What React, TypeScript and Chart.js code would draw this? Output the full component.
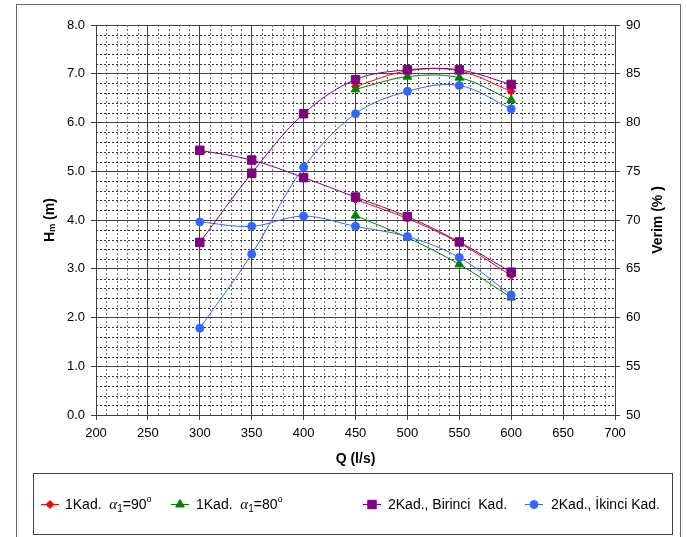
import React, { useEffect, useRef } from 'react';
import { Chart, registerables } from 'chart.js';
import { drawPoint } from 'chart.js/helpers';

Chart.register(...registerables);

// ---- data ----
const Q_ALL = [300, 350, 400, 450, 500, 550, 600];
const Q_1KAD = [450, 500, 550, 600];

const kad1_90_H = [4.42, 4.03, 3.53, 2.86];
const kad1_90_Eff = [83.7, 85.3, 85.3, 83.2];
const kad1_80_H = [4.09, 3.64, 3.09, 2.41];
const kad1_80_Eff = [83.4, 84.7, 84.6, 82.3];
const birinci_H = [5.43, 5.23, 4.87, 4.47, 4.07, 3.55, 2.93];
const birinci_Eff = [67.7, 74.8, 80.9, 84.4, 85.4, 85.4, 83.9];
const ikinci_H = [3.96, 3.87, 4.08, 3.87, 3.66, 3.23, 2.46];
const ikinci_Eff = [58.9, 66.5, 75.4, 80.9, 83.2, 83.8, 81.4];

const X_MIN = 200, X_MAX = 700, X_STEP = 50, X_MINOR = 10;
const H_MIN = 0, H_MAX = 8, H_STEP = 1, H_MINOR = 0.2;
const E_MIN = 50, E_MAX = 90, E_STEP = 5;

const RED = '#FF0000';
const GREEN = '#008000';
const PURPLE = '#800080';
const BLUE = '#3366FF';

const FONT = "'Liberation Sans', Arial, sans-serif";
const SERIF = "'Liberation Serif', 'Times New Roman', serif";

const pts = (xs: number[], ys: number[]) => xs.map((x, i) => ({ x, y: ys[i] }));

type Part = { t: string; font: string; dy?: number };

function richWidth(ctx: CanvasRenderingContext2D, parts: Part[]) {
  let w = 0;
  for (const p of parts) { ctx.font = p.font; w += ctx.measureText(p.t).width; }
  return w;
}
function drawRich(ctx: CanvasRenderingContext2D, parts: Part[], x: number, y: number) {
  let cx = x;
  for (const p of parts) {
    ctx.font = p.font;
    ctx.fillText(p.t, cx, y + (p.dy || 0));
    cx += ctx.measureText(p.t).width;
  }
}

const minorGrid = {
  id: 'minorGrid',
  beforeDatasetsDraw(chart: any) {
    const { ctx, chartArea: a, scales } = chart;
    const x = scales.x, y = scales.y;
    ctx.save();
    ctx.lineWidth = 1;
    ctx.setLineDash([2, 2]);
    const nx = Math.round((X_MAX - X_MIN) / X_MINOR);
    const per = Math.round(X_STEP / X_MINOR);
    ctx.strokeStyle = '#707070';
    for (let i = 1; i < nx; i++) {
      if (i % per === 0) continue;
      const px = Math.round(x.getPixelForValue(X_MIN + i * X_MINOR)) + 0.5;
      ctx.beginPath(); ctx.moveTo(px, a.top); ctx.lineTo(px, a.bottom); ctx.stroke();
    }
    const ny = Math.round((H_MAX - H_MIN) / H_MINOR);
    const perY = Math.round(H_STEP / H_MINOR);
    ctx.strokeStyle = '#303030';
    for (let i = 1; i < ny; i++) {
      if (i % perY === 0) continue;
      const py = Math.round(y.getPixelForValue(H_MIN + i * H_MINOR)) + 0.5;
      ctx.beginPath(); ctx.moveTo(a.left, py); ctx.lineTo(a.right, py); ctx.stroke();
    }
    ctx.restore();
  },
};

const LEGEND = [
  { color: RED, style: 'rectRot', r: 4, mx: 50, tx: 65, kind: 'alpha', angle: '90' },
  { color: GREEN, style: 'triangle', r: 5, mx: 180, tx: 196, kind: 'alpha', angle: '80' },
  { color: PURPLE, style: 'rect', r: 6, mx: 372, tx: 388, kind: 'text', text: '2Kad., Birinci  Kad.' },
  { color: BLUE, style: 'circle', r: 4, mx: 534, tx: 551, kind: 'text', text: '2Kad., İkinci Kad.' },
];

const decorations = {
  id: 'decorations',
  afterDraw(chart: any) {
    const { ctx, chartArea: a } = chart;
    ctx.save();
    // outer border
    ctx.strokeStyle = '#6a6a6a';
    ctx.lineWidth = 1;
    ctx.strokeRect(16.5, 4.5, 664, 560);

    ctx.fillStyle = '#000';
    ctx.textBaseline = 'middle';
    const bold = `bold 14px ${FONT}`;
    // left title
    const cy = (a.top + a.bottom) / 2;
    const lp: Part[] = [
      { t: 'H', font: bold },
      { t: 'm', font: `bold 9px ${FONT}`, dy: 3 },
      { t: ' (m)', font: bold },
    ];
    ctx.save();
    ctx.translate(50, cy);
    ctx.rotate(-Math.PI / 2);
    drawRich(ctx, lp, -richWidth(ctx, lp) / 2, 0);
    ctx.restore();
    // right title
    ctx.save();
    ctx.translate(658, cy);
    ctx.rotate(-Math.PI / 2);
    ctx.font = bold;
    ctx.textAlign = 'center';
    ctx.fillText('Verim (% )', 0, 0);
    ctx.restore();
    // x title
    ctx.font = bold;
    ctx.textAlign = 'center';
    ctx.fillText('Q (l/s)', (a.left + a.right) / 2, 459);

    // legend box
    ctx.strokeStyle = '#404040';
    ctx.strokeRect(33.5, 473.5, 639, 61);
    const ly = 504;
    ctx.textAlign = 'left';
    ctx.textBaseline = 'alphabetic';
    const f14 = `14px ${FONT}`;
    for (const it of LEGEND) {
      ctx.strokeStyle = it.color;
      ctx.fillStyle = it.color;
      ctx.lineWidth = 1;
      ctx.beginPath(); ctx.moveTo(it.mx - 9, ly + 0.5); ctx.lineTo(it.mx + 9, ly + 0.5); ctx.stroke();
      drawPoint(ctx, { pointStyle: it.style as any, rotation: 0, radius: it.r, borderWidth: 1 }, it.mx, ly + 0.5);
      ctx.fillStyle = '#000';
      let parts: Part[];
      if (it.kind === 'alpha') {
        parts = [
          { t: '1Kad.  ', font: f14 },
          { t: 'α', font: `italic 15px ${SERIF}` },
          { t: '1', font: `10px ${FONT}`, dy: 3 },
          { t: '=' + it.angle, font: f14 },
          { t: 'o', font: `9px ${FONT}`, dy: -7 },
        ];
      } else {
        parts = [{ t: it.text as string, font: f14 }];
      }
      drawRich(ctx, parts, it.tx, ly + 5);
    }
    ctx.restore();
  },
};

export default function App() {
  const ref = useRef<HTMLCanvasElement>(null);
  useEffect(() => {
    const canvas = ref.current!;
    Chart.defaults.font.family = FONT;
    Chart.defaults.font.size = 13;
    Chart.defaults.color = '#000';
    const mk = (label: string, data: any[], color: string, style: string, r: number, axis: string, order: number) => ({
      label, data, yAxisID: axis, order,
      borderColor: color, backgroundColor: color,
      pointBackgroundColor: color, pointBorderColor: color,
      pointStyle: style, pointRadius: r, pointBorderWidth: 1,
      borderWidth: 1, tension: 0.35, fill: false,
    });
    const chart = new Chart(canvas, {
      type: 'line',
      data: {
        datasets: [
          mk('1Kad. α1=90° H', pts(Q_1KAD, kad1_90_H), RED, 'rectRot', 4, 'y', 8),
          mk('1Kad. α1=80° H', pts(Q_1KAD, kad1_80_H), GREEN, 'triangle', 5, 'y', 7),
          mk('2Kad., Birinci Kad. H', pts(Q_ALL, birinci_H), PURPLE, 'rect', 6, 'y', 6),
          mk('2Kad., İkinci Kad. H', pts(Q_ALL, ikinci_H), BLUE, 'circle', 4, 'y', 5),
          mk('1Kad. α1=90° Verim', pts(Q_1KAD, kad1_90_Eff), RED, 'rectRot', 4, 'y2', 4),
          mk('1Kad. α1=80° Verim', pts(Q_1KAD, kad1_80_Eff), GREEN, 'triangle', 5, 'y2', 3),
          mk('2Kad., Birinci Kad. Verim', pts(Q_ALL, birinci_Eff), PURPLE, 'rect', 6, 'y2', 2),
          mk('2Kad., İkinci Kad. Verim', pts(Q_ALL, ikinci_Eff), BLUE, 'circle', 4, 'y2', 1),
        ] as any,
      },
      options: {
        animation: false,
        responsive: false,
        devicePixelRatio: 1,
        layout: { padding: { top: 25, left: 0, right: 0, bottom: 0 } },
        plugins: { legend: { display: false }, tooltip: { enabled: false } },
        scales: {
          x: {
            type: 'linear', min: X_MIN, max: X_MAX,
            ticks: { stepSize: X_STEP, padding: 6, font: { size: 13 }, color: '#000' },
            grid: { color: '#404040', lineWidth: 1, tickLength: 5, tickColor: '#404040' },
            border: { color: '#404040' },
            afterFit: (s: any) => { s.height = 122; },
          },
          y: {
            type: 'linear', position: 'left', min: H_MIN, max: H_MAX,
            ticks: { stepSize: H_STEP, padding: 6, callback: (v: any) => Number(v).toFixed(1), color: '#000' },
            grid: { color: '#404040', lineWidth: 1, tickLength: 5, tickColor: '#404040' },
            border: { color: '#404040' },
            afterFit: (s: any) => { s.width = 96; },
          },
          y2: {
            type: 'linear', position: 'right', min: E_MIN, max: E_MAX,
            ticks: { stepSize: E_STEP, padding: 6, color: '#000' },
            grid: { drawOnChartArea: false, tickLength: 5, tickColor: '#404040', color: '#404040' },
            border: { color: '#404040' },
            afterFit: (s: any) => { s.width = 72; },
          },
        },
      } as any,
      plugins: [minorGrid, decorations],
    });
    return () => chart.destroy();
  }, []);
  return (
    <div style={{ position: 'fixed', left: 0, top: 0, width: 687, height: 537, background: '#fff' }}>
      <canvas ref={ref} width={687} height={537} style={{ width: 687, height: 537, display: 'block' }} />
    </div>
  );
}
